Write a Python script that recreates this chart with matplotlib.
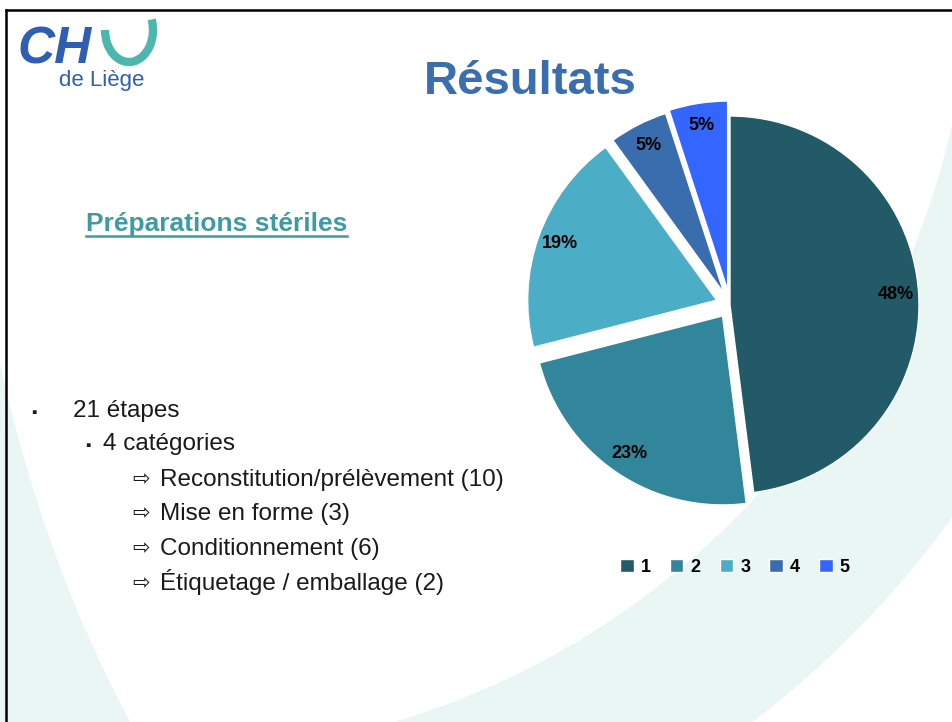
import numpy as np
import matplotlib
matplotlib.use("Agg")
import matplotlib.pyplot as plt
from matplotlib.patches import Arc

# data
slice_labels = ["1", "2", "3", "4", "5"]
slice_values = [48, 23, 19, 5, 5]
slice_colors = ["#225A68", "#32869C", "#4BADC6", "#3A6DAE", "#3366FF"]
slice_explode = [0.0, 0.07, 0.075, 0.07, 0.08]

title = "Résultats"
subtitle = "Préparations stériles"
level1 = ["21 étapes"]
level2 = ["4 catégories"]
steps = ["Reconstitution/prélèvement (10)", "Mise en forme (3)",
         "Conditionnement (6)", "Étiquetage / emballage (2)"]

W, H = 953, 722
plt.rcParams['font.family'] = ['Liberation Sans', 'DejaVu Sans']

fig = plt.figure(figsize=(W / 100, H / 100), dpi=100)

# background axes in pixel coords (y down)
bg = fig.add_axes([0, 0, 1, 1])
bg.set_xlim(0, W)
bg.set_ylim(H, 0)
bg.axis("off")

# faint mint swoosh behind the slide
xx, yy = np.meshgrid(np.arange(W) + 0.5, np.arange(H) + 0.5)
d = np.hypot(xx - 162, yy + 54)
inA = ((xx - 700) / 739) ** 2 + (yy / 1134) ** 2 < 1
white = (inA & (d < 810)) | (d > 975)
img = np.ones((H, W, 3))
mint = np.array([0xEA, 0xF6, 0xF3]) / 255
img[~white] = mint
bg.imshow(img, extent=[0, W, H, 0], aspect="auto", zorder=0)

# slide frame
bg.plot([6, W], [10, 10], color="black", lw=1.8, zorder=1)
bg.plot([6, 6], [10, H], color="black", lw=1.8, zorder=1)

# logo
bg.text(17, 63, "CH", fontsize=37, fontweight="bold", fontstyle="italic",
        color="#2F5FB3", va="baseline", ha="left", zorder=2)
bg.add_patch(Arc((129, 30), 48, 64, theta1=-25, theta2=180, lw=6,
                 color="#4DB6AE", zorder=2))
bg.text(59, 86, "de Liège", fontsize=16, color="#2F5FB3",
        va="baseline", ha="left", zorder=2)

# title
bg.text(530, 94, title, fontsize=34, fontweight="bold", color="#3A6EAF",
        ha="center", va="baseline", zorder=2)

# subtitle with underline
sub = bg.text(86, 231, subtitle, fontsize=19, fontweight="bold",
              color="#3F9BA3", ha="left", va="baseline", zorder=2)
fig.canvas.draw()
bb = sub.get_window_extent().transformed(bg.transData.inverted())
bg.plot([bb.x0, bb.x1], [236, 236], color="#3F9BA3", lw=1.8, zorder=2)

# bullet list
txt_color = "#1A1A1A"
fs = 17.5
bg.text(31, 417, "▪", fontsize=11, color=txt_color, va="baseline", zorder=2)
bg.text(73, 417, level1[0], fontsize=fs, color=txt_color, va="baseline", zorder=2)
bg.text(85, 450, "▪", fontsize=11, color=txt_color, va="baseline", zorder=2)
bg.text(103, 450, level2[0], fontsize=fs, color=txt_color, va="baseline", zorder=2)
step_y = [486, 520, 555, 590]
for s, y in zip(steps, step_y):
    bg.text(132, y - 1, "⇨", fontsize=15, color=txt_color, va="baseline",
            family="DejaVu Sans", zorder=2)
    bg.text(160, y, s, fontsize=fs, color=txt_color, va="baseline", zorder=2)

# pie
cx, cy, r = 730, 305, 189
half = 230
ax = fig.add_axes([(cx - half) / W, (H - cy - half) / H, 2 * half / W, 2 * half / H])
wedges, _, autotexts = ax.pie(
    slice_values, explode=slice_explode, colors=slice_colors,
    startangle=90, counterclock=False, autopct="%1.0f%%", pctdistance=0.88,
    wedgeprops=dict(edgecolor="white", linewidth=1),
    textprops=dict(fontsize=13, fontweight="bold", color="black"))
ax.set_xlim(-half / r, half / r)
ax.set_ylim(-half / r, half / r)
ax.set_aspect("equal")

fig.legend(wedges, slice_labels, loc="center", bbox_to_anchor=(735 / W, 1 - 567 / H),
           ncol=5, frameon=False, handlelength=0.75, handleheight=0.75,
           handletextpad=0.4, columnspacing=1.05,
           prop=dict(size=13, weight="bold"))

fig.savefig("out.png", dpi=100)
